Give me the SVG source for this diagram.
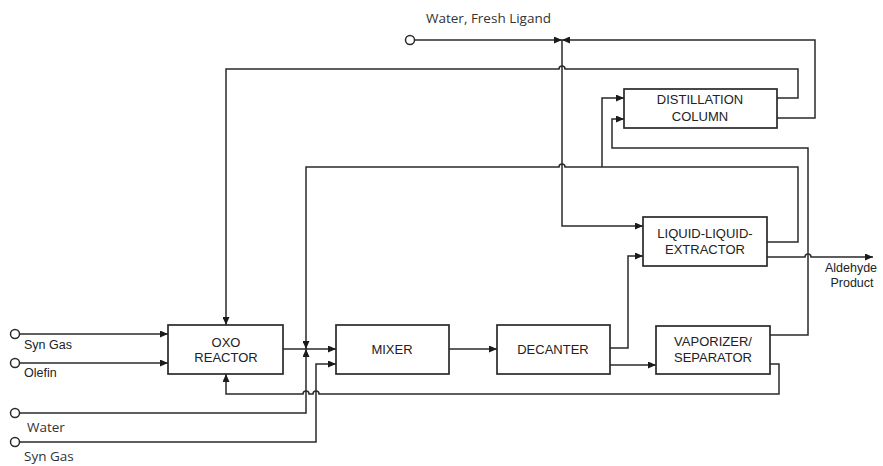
<svg xmlns="http://www.w3.org/2000/svg" width="883" height="466" viewBox="0 0 883 466">
<defs>
<style>
.box{fill:#fff;stroke:#2a2a2a;stroke-width:1.7}
.ln{fill:none;stroke:#2a2a2a;stroke-width:1.5}
.arr{marker-end:url(#ah)}
.t{font-family:"Liberation Sans",Arial,sans-serif;font-size:13px;fill:#222;text-anchor:middle}
.lb{font-family:"Liberation Sans",Arial,sans-serif;font-size:12.5px;fill:#222}
.lc{font-family:"Open Sans","Noto Sans",sans-serif;font-size:13.5px;fill:#333}
.src{fill:#fff;stroke:#2a2a2a;stroke-width:1.5}
</style>
<marker id="ah" viewBox="0 0 8 7" refX="8" refY="3.5" markerWidth="8" markerHeight="7" markerUnits="userSpaceOnUse" orient="auto">
<path d="M0,0 L8,3.5 L0,7 z" fill="#1a1a1a"/>
</marker>
</defs>
<rect width="883" height="466" fill="#fff"/>

<g id="connectors">
<path class="ln arr" d="M19.5,334 H168"/>
<path class="ln arr" d="M19.5,363 H168"/>
<path class="ln arr" d="M19.5,413 H306 V349"/>
<path class="ln arr" d="M19.5,442 H316 V364 H336"/>
<path class="ln arr" d="M283,349 H336"/>
<path class="ln arr" d="M767,242 H798 V167 H565 a3,3 0 0 0 -6,0 H306 V349"/>
<path class="ln arr" d="M777,98 H798 V69 H565 a3,3 0 0 0 -6,0 H226 V325"/>
<path class="ln arr" d="M777,118 H815 V40 H562"/>
<path class="ln arr" d="M414.5,40 H562"/>
<path class="ln arr" d="M562,40 V226 H643"/>
<path class="ln arr" d="M602,167 V98 H624"/>
<path class="ln arr" d="M770,335 H808 V148 H612 V119 H624"/>
<path class="ln arr" d="M767,257 H805 a3,3 0 0 1 6,0 H873"/>
<path class="ln arr" d="M449,349 H497"/>
<path class="ln arr" d="M610,348 H628 V256 H643"/>
<path class="ln arr" d="M610,365 H656"/>
<path class="ln arr" d="M770,364 H779 V394 H319 a3,3 0 0 0 -6,0 H309 a3,3 0 0 0 -6,0 H226 V374"/>
</g>

<g id="sources">
<circle class="src" cx="15" cy="334" r="4.5"/>
<circle class="src" cx="15" cy="363" r="4.5"/>
<circle class="src" cx="15" cy="413" r="4.5"/>
<circle class="src" cx="15" cy="442" r="4.5"/>
<circle class="src" cx="410" cy="40" r="4.5"/>
</g>

<g id="labels">
<text class="lb" x="24" y="349">Syn Gas</text>
<text class="lb" x="24" y="377">Olefin</text>
<text class="lc" x="27" y="432">Water</text>
<text class="lc" x="24" y="461">Syn Gas</text>
<text class="lc" x="426" y="23">Water, Fresh Ligand</text>
<text class="t" x="851" y="272" style="font-size:12.5px">Aldehyde</text>
<text class="t" x="852" y="287" style="font-size:12.5px">Product</text>
</g>

<g id="oxo-reactor">
<rect class="box" x="168" y="325" width="115" height="49"/>
<text class="t" x="226" y="347">OXO</text>
<text class="t" x="226" y="362">REACTOR</text>
</g>
<g id="mixer">
<rect class="box" x="336" y="325" width="113" height="49"/>
<text class="t" x="392" y="354">MIXER</text>
</g>
<g id="decanter">
<rect class="box" x="497" y="325" width="113" height="49"/>
<text class="t" x="553" y="354">DECANTER</text>
</g>
<g id="vaporizer-separator">
<rect class="box" x="656" y="326" width="114" height="48"/>
<text class="t" x="713" y="346">VAPORIZER/</text>
<text class="t" x="713" y="362">SEPARATOR</text>
</g>
<g id="liquid-liquid-extractor">
<rect class="box" x="643" y="217" width="124" height="49"/>
<text class="t" x="705" y="238">LIQUID-LIQUID-</text>
<text class="t" x="705" y="254">EXTRACTOR</text>
</g>
<g id="distillation-column">
<rect class="box" x="624" y="89" width="153" height="39"/>
<text class="t" x="700" y="104">DISTILLATION</text>
<text class="t" x="700" y="121">COLUMN</text>
</g>
</svg>
